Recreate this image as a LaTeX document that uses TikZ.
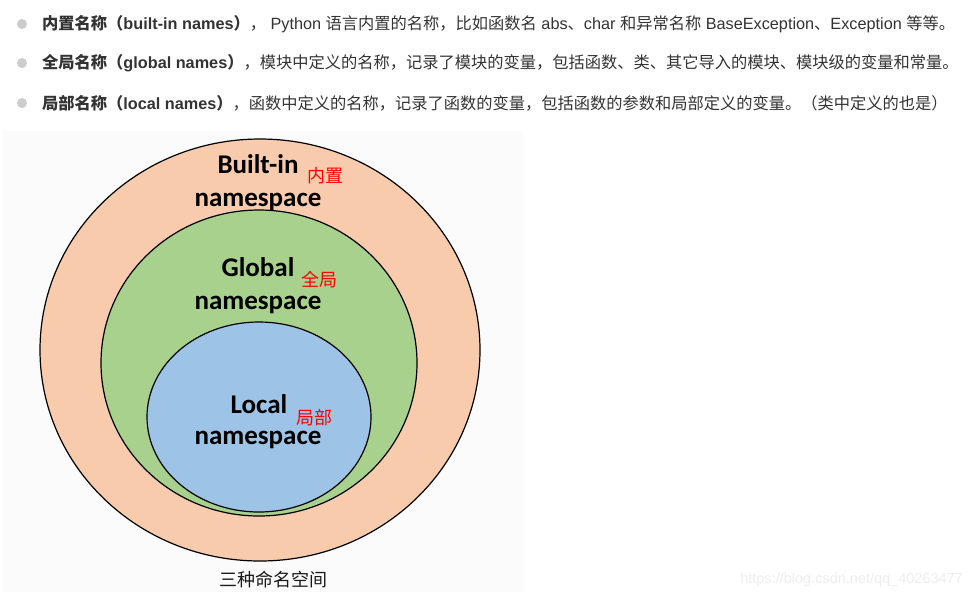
\documentclass[tikz,border=0pt]{standalone}
\usepackage{fontspec}
\setmainfont{Liberation Sans}
\newfontfamily\zh{Noto Sans CJK SC}
\newfontfamily\dia{Carlito}
\usetikzlibrary{positioning}

\definecolor{builtin}{HTML}{F8CBAD}
\definecolor{global}{HTML}{A9D18E}
\definecolor{local}{HTML}{9DC3E6}
\definecolor{bodytext}{HTML}{333333}

\tikzset{
  bullet/.style={circle,fill=black!20,inner sep=0pt,minimum size=10pt},
  line/.style={anchor=west,inner sep=0pt,text=bodytext,font=\fontsize{16.25}{19}\selectfont},
  ring/.style={draw=black,line width=1.2pt},
  title/.style={anchor=base,inner sep=0pt,font=\dia\bfseries\fontsize{27}{30}\selectfont},
  tag/.style={anchor=base,inner sep=0pt,text=red,font=\zh\fontsize{18}{20}\selectfont},
}

\begin{document}
\begin{tikzpicture}[x=1pt,y=-1pt]
\useasboundingbox (0,0) rectangle (973,598);
\fill[black!1.5] (3,131) rectangle (523,592);

% bullet list
\node[bullet] (b1) at (22,24) {};
\node[bullet] (b2) at (22,63) {};
\node[bullet] (b3) at (22,103) {};
\node[line] (t1) at (42,24) {{\bfseries\zh 内置名称（}{\bfseries built-in names}{\bfseries\zh ）}{\zh ，} Python {\zh 语言内置的名称，比如函数名} abs{\zh 、}char {\zh 和异常名称} BaseException{\zh 、}Exception {\zh 等等。}};
\node[line] (t2) at (42,63) {{\bfseries\zh 全局名称（}{\bfseries global names}{\bfseries\zh ）}{\zh ，模块中定义的名称，记录了模块的变量，包括函数、类、其它导入的模块、模块级的变量和常量。}};
\node[line] (t3) at (42,103) {{\bfseries\zh 局部名称（}{\bfseries local names}{\bfseries\zh ）}{\zh ，函数中定义的名称，记录了函数的变量，包括函数的参数和局部定义的变量。（类中定义的也是）}};

% the three namespaces
\draw[ring,fill=builtin] (260,350) ellipse [x radius=220, y radius=211];
\draw[ring,fill=global] (259,363) ellipse [x radius=158, y radius=153];
\draw[ring,fill=local] (259,417) ellipse [x radius=112, y radius=95];

\node[title] (bname) at (258,173) {Built-in};
\node[title] (bns) at (258,206) {namespace};
\node[tag] (btag) at (325,182) {内置};
\node[title] (gname) at (258,276) {Global};
\node[title] (gns) at (258,309) {namespace};
\node[tag] (gtag) at (319,286) {全局};
\node[title] (lname) at (259,413) {Local};
\node[title] (lns) at (258,444) {namespace};
\node[tag] (ltag) at (314,424) {局部};

\node[inner sep=0pt,text=black!90,font=\zh\fontsize{18}{20}\selectfont] (cap) at (273,580) {三种命名空间};
\node[inner sep=0pt,anchor=east,text=black!7,font=\fontsize{14.5}{16}\selectfont] (mark) at (963,580) {https://blog.csdn.net/qq\_40263477};

\end{tikzpicture}
\end{document}
